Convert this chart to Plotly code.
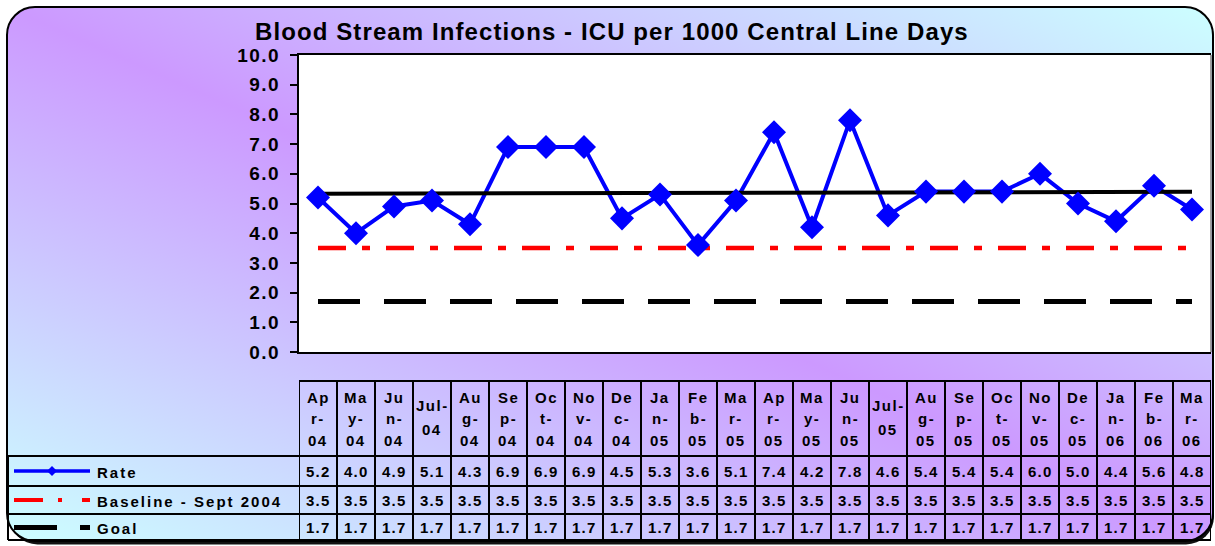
import base64
import numpy as np
import plotly.graph_objects as go

W, H = 1215, 546

# ---------------- data ----------------
months = ["Apr-04", "May-04", "Jun-04", "Jul-04", "Aug-04", "Sep-04", "Oct-04", "Nov-04",
          "Dec-04", "Jan-05", "Feb-05", "Mar-05", "Apr-05", "May-05", "Jun-05", "Jul-05",
          "Aug-05", "Sep-05", "Oct-05", "Nov-05", "Dec-05", "Jan-06", "Feb-06", "Mar-06"]
header_lines = [["Ap", "r-", "04"], ["Ma", "y-", "04"], ["Ju", "n-", "04"], ["Jul-", "04"],
                ["Au", "g-", "04"], ["Se", "p-", "04"], ["Oc", "t-", "04"], ["No", "v-", "04"],
                ["De", "c-", "04"], ["Ja", "n-", "05"], ["Fe", "b-", "05"], ["Ma", "r-", "05"],
                ["Ap", "r-", "05"], ["Ma", "y-", "05"], ["Ju", "n-", "05"], ["Jul-", "05"],
                ["Au", "g-", "05"], ["Se", "p-", "05"], ["Oc", "t-", "05"], ["No", "v-", "05"],
                ["De", "c-", "05"], ["Ja", "n-", "06"], ["Fe", "b-", "06"], ["Ma", "r-", "06"]]
rate = [5.2, 4.0, 4.9, 5.1, 4.3, 6.9, 6.9, 6.9, 4.5, 5.3, 3.6, 5.1,
        7.4, 4.2, 7.8, 4.6, 5.4, 5.4, 5.4, 6.0, 5.0, 4.4, 5.6, 4.8]
baseline = [3.5, 3.5, 3.5, 3.5, 3.5, 3.5, 3.5, 3.5, 3.5, 3.5, 3.5, 3.5,
            3.5, 3.5, 3.5, 3.5, 3.5, 3.5, 3.5, 3.5, 3.5, 3.5, 3.5, 3.5]
goal = [1.7, 1.7, 1.7, 1.7, 1.7, 1.7, 1.7, 1.7, 1.7, 1.7, 1.7, 1.7,
        1.7, 1.7, 1.7, 1.7, 1.7, 1.7, 1.7, 1.7, 1.7, 1.7, 1.7, 1.7]
series_names = ["Rate", "Baseline - Sept 2004", "Goal"]
y_ticks = [0.0, 1.0, 2.0, 3.0, 4.0, 5.0, 6.0, 7.0, 8.0, 9.0, 10.0]
title = "Blood Stream Infections - ICU per 1000 Central Line Days"

# ---------------- geometry (pixels) ----------------
PL, PR, PT, PB = 299, 1211, 55, 352
T_TOP, H_BOT = 381, 456
ROW_BOT = [486, 514, 540]
ROW_MID = [471, 500, 527.5]
FRAME_L = 8
FONT = "Liberation Sans, Arial, Helvetica, sans-serif"


def fx(p):
    return p / W


def fy(p):
    return 1 - p / H


def spaced(t, sp):
    return f'<span style="letter-spacing:{sp}px">{t}</span>'


# ---------------- background (rounded frame with gradient) ----------------
svg = (
    f'<svg xmlns="http://www.w3.org/2000/svg" width="{W}" height="{H}" viewBox="0 0 {W} {H}" preserveAspectRatio="none">'
    '<defs><linearGradient id="bg" x1="1" y1="0" x2="0" y2="1">'
    '<stop offset="0" stop-color="#CCFFFF"/><stop offset="0.5" stop-color="#CC99FF"/>'
    '<stop offset="1" stop-color="#CCFFFF"/></linearGradient></defs>'
    '<rect x="9.5" y="9.5" width="1204.5" height="535" rx="28" ry="28" fill="#111"/>'
    '<rect x="7" y="7" width="1206" height="534" rx="28" ry="28" fill="url(#bg)" stroke="#000" stroke-width="2"/>'
    '</svg>'
)
src = "data:image/svg+xml;base64," + base64.b64encode(svg.encode()).decode()

fig = go.Figure()

# baseline & goal
fig.add_trace(go.Scatter(x=months, y=baseline, mode="lines", name=series_names[1],
                         line=dict(color="#FF0000", width=4.5, dash="28px,16px,8px,16px"),
                         hoverinfo="skip"))
fig.add_trace(go.Scatter(x=months, y=goal, mode="lines", name=series_names[2],
                         line=dict(color="#000000", width=5, dash="42px,24px"),
                         hoverinfo="skip"))
# rate line
fig.add_trace(go.Scatter(x=months, y=rate, mode="lines", name=series_names[0],
                         line=dict(color="#0000FF", width=4), hoverinfo="skip"))
# linear trendline of the rate
idx = np.arange(len(rate))
slope, icpt = np.polyfit(idx, rate, 1)
fig.add_trace(go.Scatter(x=[months[0], months[-1]], y=[icpt, icpt + slope * idx[-1]],
                         mode="lines", line=dict(color="#000000", width=4), hoverinfo="skip"))
# rate markers
fig.add_trace(go.Scatter(x=months, y=rate, mode="markers",
                         marker=dict(symbol="diamond", size=18.5, color="#0000FF",
                                     line=dict(width=0)), hoverinfo="skip"))

annotations = []
annotations.append(dict(text=spaced(title, 1.1), x=fx(612), y=fy(31), xref="paper", yref="paper",
                        xanchor="center", yanchor="middle", showarrow=False,
                        font=dict(family=FONT, size=24, color="#000", weight="bold")))

# table header
for i, lines in enumerate(header_lines):
    centers = [397, 418.5, 440] if len(lines) == 3 else [405, 429]
    for ln, c in zip(lines, centers):
        annotations.append(dict(text=spaced(ln, 1.5), x=months[i], y=fy(c), xref="x", yref="paper",
                                xanchor="center", yanchor="middle", showarrow=False,
                                font=dict(family=FONT, size=15, color="#000", weight="bold")))

# table values
for r, vals in enumerate([rate, baseline, goal]):
    for i, v in enumerate(vals):
        annotations.append(dict(text=spaced(f"{v:.1f}", 1.2), x=months[i], y=fy(ROW_MID[r]),
                                xref="x", yref="paper", xanchor="center", yanchor="middle",
                                showarrow=False,
                                font=dict(family=FONT, size=15, color="#000", weight="bold")))

# legend texts
for r, nm in enumerate(series_names):
    annotations.append(dict(text=spaced(nm, 2.0), x=fx(95), y=fy(ROW_MID[r] + 1), xref="paper",
                            yref="paper", xanchor="left", yanchor="middle", showarrow=False,
                            font=dict(family=FONT, size=15, color="#000", weight="bold")))

shapes = []
# white plot area
shapes.append(dict(type="rect", xref="x domain", yref="y domain", x0=0, x1=1, y0=0, y1=1,
                   fillcolor="white", line=dict(width=0), layer="below"))
# right plot border
shapes.append(dict(type="line", xref="x domain", yref="y domain", x0=1, x1=1, y0=0, y1=1,
                   line=dict(color="#808080", width=1.5)))

# table grid
for i in range(len(months) + 1):
    shapes.append(dict(type="line", xref="x", yref="paper", x0=i - 0.5, x1=i - 0.5,
                       y0=fy(T_TOP), y1=fy(ROW_BOT[-1]), line=dict(color="#000", width=2)))
shapes.append(dict(type="line", xref="paper", yref="paper", x0=fx(PL), x1=fx(PR),
                   y0=fy(T_TOP), y1=fy(T_TOP), line=dict(color="#000", width=2)))
for yy in [H_BOT] + ROW_BOT:
    shapes.append(dict(type="line", xref="paper", yref="paper", x0=fx(FRAME_L), x1=fx(PR),
                       y0=fy(yy), y1=fy(yy), line=dict(color="#000", width=2)))
shapes.append(dict(type="line", xref="paper", yref="paper", x0=fx(FRAME_L), x1=fx(FRAME_L),
                   y0=fy(H_BOT), y1=fy(ROW_BOT[-1]), line=dict(color="#000", width=2)))


def hseg(x0, x1, y, color, w):
    return dict(type="line", xref="paper", yref="paper", x0=fx(x0), x1=fx(x1), y0=fy(y), y1=fy(y),
                line=dict(color=color, width=w))


# legend keys
shapes.append(hseg(14, 90, ROW_MID[0], "#0000FF", 3.5))
dpath = (f"M {fx(47)} {fy(ROW_MID[0])} L {fx(52)} {fy(ROW_MID[0] - 5)} "
         f"L {fx(57)} {fy(ROW_MID[0])} L {fx(52)} {fy(ROW_MID[0] + 5)} Z")
shapes.append(dict(type="path", xref="paper", yref="paper", path=dpath,
                   fillcolor="#0000FF", line=dict(color="#0000FF", width=0)))
for a, b in [(14, 43), (58, 62), (82, 90)]:
    shapes.append(hseg(a, b, ROW_MID[1], "#FF0000", 4))
for a, b in [(14, 57), (80, 90)]:
    shapes.append(hseg(a, b, ROW_MID[2], "#000000", 5))

fig.update_layout(
    width=W, height=H, margin=dict(l=0, r=0, t=0, b=0, autoexpand=False),
    paper_bgcolor="white", plot_bgcolor="rgba(0,0,0,0)",
    showlegend=False,
    images=[dict(source=src, xref="paper", yref="paper", x=0, y=1, sizex=1, sizey=1,
                 xanchor="left", yanchor="top", sizing="stretch", layer="below")],
    xaxis=dict(type="category", domain=[fx(PL), fx(PR)], range=[-0.5, len(months) - 0.5],
               showticklabels=False, showgrid=False, zeroline=False, ticks="", automargin=False,
               showline=True, mirror=True, linecolor="#000", linewidth=2),
    yaxis=dict(domain=[fy(PB), fy(PT)], range=[0, 10], tickvals=y_ticks,
               ticktext=[spaced(f"{v:.1f}", 1.5) for v in y_ticks],
               ticks="outside", ticklen=7, tickwidth=2, tickcolor="#000",
               ticklabelstandoff=6, automargin=False,
               tickfont=dict(family=FONT, size=19, color="#000", weight="bold"),
               showgrid=False, zeroline=False, showline=True, linecolor="#000", linewidth=2),
    annotations=annotations,
    shapes=shapes,
)

fig.write_html("out.html",
               config={"displayModeBar": False},
               post_script="document.body.style.margin='0';document.body.style.overflow='hidden';")
